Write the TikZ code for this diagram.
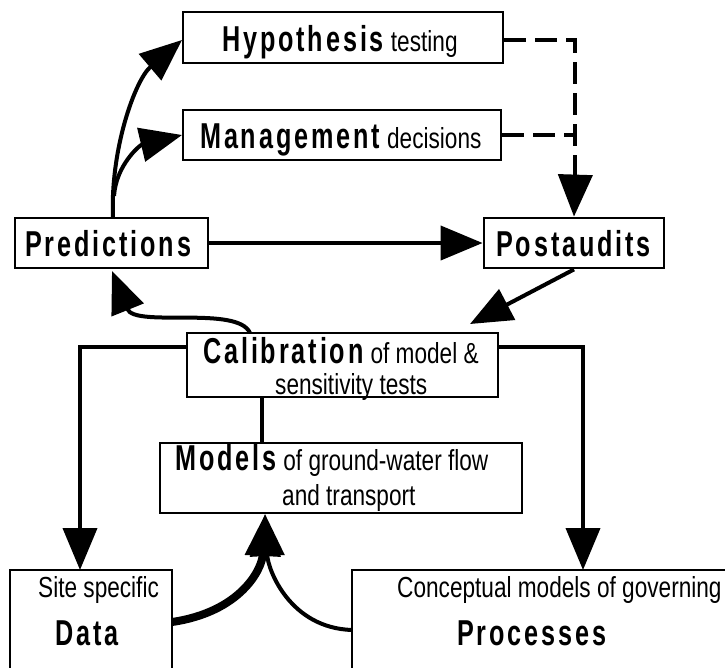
\documentclass[tikz,border=0pt]{standalone}
\usepackage{fontspec}
\setmainfont{Liberation Sans}[FakeStretch=0.78]
\newfontfamily\kwfont{Liberation Sans}[FakeStretch=0.7,LetterSpace=8]
\usetikzlibrary{arrows.meta}
\newcommand\kwd[1]{{\kwfont\bfseries\fontsize{36}{38}\selectfont #1}}
\newcommand\sml[1]{{\fontsize{29}{32}\selectfont #1}}
\newcommand\gap{\hspace{7pt}}
\begin{document}
\begin{tikzpicture}[x=1pt,y=-1pt,
  box/.style={draw,line width=2.8pt,rectangle,inner sep=0pt},
  txt/.style={inner sep=0pt,anchor=base west},
  conn/.style={line width=4pt},
  tip/.style={-{Triangle[length=42pt,width=34pt]}},
  dashconn/.style={line width=4pt,dash pattern=on 22pt off 9pt}]
\useasboundingbox (0,0) rectangle (725,667);
\clip (0,0) rectangle (725,667);
% boxes
\node[box,minimum width=320pt,minimum height=51pt] (hyp) at (343,37.5) {};
\node[txt] at (222,51) {\kwd{Hypothesis}\gap\sml{testing}};
\node[box,minimum width=318pt,minimum height=50pt] (man) at (342,135) {};
\node[txt] at (200,148) {\kwd{Management}\gap\sml{decisions}};
\node[box,minimum width=193pt,minimum height=50pt] (pre) at (111.5,243) {};
\node[txt] at (25,256) {\kwd{Predictions}};
\node[box,minimum width=180pt,minimum height=50pt] (pos) at (574,243) {};
\node[txt] at (496,256) {\kwd{Postaudits}};
\node[box,minimum width=311pt,minimum height=64pt] (cal) at (342.5,365) {};
\node[txt] at (203,363) {\kwd{Calibration}\gap\sml{of model \&}};
\node[txt] at (275,394) {\sml{sensitivity tests}};
\node[box,minimum width=362pt,minimum height=70pt] (mod) at (341,478) {};
\node[txt] at (175,470) {\kwd{Models}\gap\sml{of ground-water flow}};
\node[txt] at (282,505) {\sml{and transport}};
\node[box,minimum width=162pt,minimum height=100pt] (dat) at (91,620) {};
\node[txt] at (38,597) {\sml{Site specific}};
\node[txt] at (55,645) {\kwd{Data}};
\node[box,minimum width=376pt,minimum height=100pt] (pro) at (540,620) {};
\node[txt] at (397,597) {\sml{Conceptual models of governing}};
\node[txt] at (457,645) {\kwd{Processes}};
% connectors
\coordinate (hc) at (575,40);
\coordinate (mc) at (575,135);
\draw[conn,tip] (pre.east) -- (pos.west);
\draw[conn,tip] (pos.south) -- (470,324);
\draw[conn,tip] (250,333) .. controls (238,305) and (135,328) .. (112,271);
\draw[conn,tip] (113,218) .. controls (110,150) and (135,80) .. (182,40);
\draw[conn,tip] (114,196) .. controls (116,165) and (140,145) .. (182,135);
\draw[dashconn] (hyp.east |- hc) -- (hc) -- (575,190);
\draw[conn,tip] (575,185) -- (pos.north);
\draw[dashconn] (man.east |- mc) -- (mc);
\draw[conn,tip] (cal.west |- 0,347) -- (80,347) -- (80,570);
\draw[conn,tip] (cal.east |- 0,347) -- (583,347) -- (583,570);
\draw[conn] (262,397) -- (262,443);
\draw[line width=8pt,-{Triangle[length=42pt,width=34pt]}] (172,622) .. controls (240,612) and (262,570) .. (265,514);
\draw[conn,tip] (352,630) .. controls (290,628) and (268,570) .. (265,514);
\end{tikzpicture}
\end{document}
